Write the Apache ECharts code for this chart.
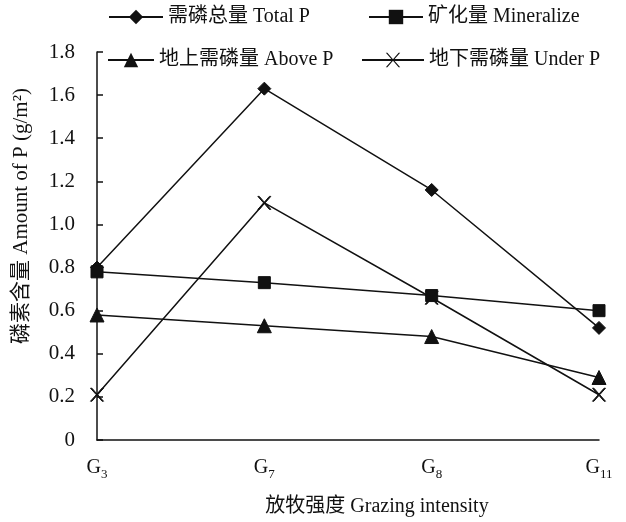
<!DOCTYPE html>
<html>
<head>
<meta charset="utf-8">
<script src="https://cdn.jsdelivr.net/npm/echarts@6/dist/echarts.min.js"></script>
<style>
  html, body { margin: 0; padding: 0; background: #fff; }
  #myChart { width: 626px; height: 522px; }
</style>
</head>
<body>
<div id="myChart"></div>
<script>
  // grazing intensity levels (subscript number after G)
  const categories = ['3', '7', '8', '11']
  const totalP = [0.80, 1.63, 1.16, 0.52]
  const mineralize = [0.78, 0.73, 0.67, 0.60]
  const aboveP = [0.58, 0.53, 0.48, 0.29]
  const underP = [0.21, 1.10, 0.66, 0.21]
  const yTicks = [0, 0.2, 0.4, 0.6, 0.8, 1.0, 1.2, 1.4, 1.6, 1.8]

  const font = '"Liberation Serif", "Noto Sans CJK SC", serif'
  const crossPath = 'path://M0,0 L2.2,0 L10,8 L17.8,0 L20,0 L11.1,9 L20,18 L17.8,18 L10,10 L2.2,18 L0,18 L8.9,9 Z'

  const names = ['需磷总量 Total P', '矿化量 Mineralize', '地上需磷量 Above P', '地下需磷量 Under P']

  function makeLegend(name, left, top, width) {
    return {
      data: [name],
      left: left,
      top: top,
      padding: 0,
      itemWidth: width,
      itemHeight: 18,
      selectedMode: false,
      lineStyle: { width: 2 },
      textStyle: { fontFamily: font, fontSize: 20, color: '#111' }
    }
  }

  function makeSeries(name, data, symbol, size) {
    return {
      name: name,
      type: 'line',
      data: data,
      symbol: symbol,
      symbolSize: size,
      showSymbol: true,
      lineStyle: { color: '#111', width: 1.5 },
      itemStyle: { color: '#111', borderColor: '#111' },
      emphasis: { disabled: true },
      z: 3
    }
  }

  const myChart = echarts.init(document.getElementById('myChart'))
  myChart.setOption({
    animation: false,
    backgroundColor: '#fff',
    legend: [
      makeLegend(names[0], 108, 7, 54),
      makeLegend(names[1], 368, 7, 54),
      makeLegend(names[2], 107, 50, 46),
      makeLegend(names[3], 361, 50, 62)
    ],
    grid: {
      left: 97,
      right: 27,
      top: 52,
      bottom: 79,
      containLabel: false
    },
    xAxis: {
      type: 'category',
      boundaryGap: false,
      data: categories,
      name: '放牧强度 Grazing intensity',
      nameLocation: 'middle',
      nameGap: 57,
      nameTextStyle: { fontFamily: font, fontSize: 20, color: '#111', padding: [0, 0, 0, 58] },
      axisLine: { lineStyle: { color: '#111', width: 1.5 } },
      axisTick: { show: false },
      axisLabel: {
        margin: 18,
        formatter: function (v) { return '{a|G}{b|' + v + '}' },
        rich: {
          a: { fontFamily: font, fontSize: 20, color: '#111', verticalAlign: 'top' },
          b: { fontFamily: font, fontSize: 13, color: '#111', verticalAlign: 'top', padding: [10, 0, 0, 0] }
        }
      },
      splitLine: { show: false }
    },
    yAxis: {
      type: 'value',
      min: yTicks[0],
      max: yTicks[yTicks.length - 1],
      interval: 0.2,
      name: '磷素含量 Amount of P (g/m²)',
      nameLocation: 'middle',
      nameGap: 65,
      nameTextStyle: { fontFamily: font, fontSize: 21, color: '#111', padding: [0, 0, 0, 60] },
      axisLine: { show: true, lineStyle: { color: '#111', width: 1.5 } },
      axisTick: { show: true, inside: true, length: 6, lineStyle: { color: '#111', width: 1.5 } },
      axisLabel: {
        margin: 22,
        fontFamily: font,
        fontSize: 21,
        color: '#111',
        formatter: function (v) { return v === 0 ? '0' : v.toFixed(1) }
      },
      splitLine: { show: false }
    },
    series: [
      makeSeries(names[0], totalP, 'diamond', 13),
      makeSeries(names[1], mineralize, 'rect', 12),
      makeSeries(names[2], aboveP, 'triangle', 14),
      makeSeries(names[3], underP, crossPath, 13)
    ]
  })
</script>
</body>
</html>
